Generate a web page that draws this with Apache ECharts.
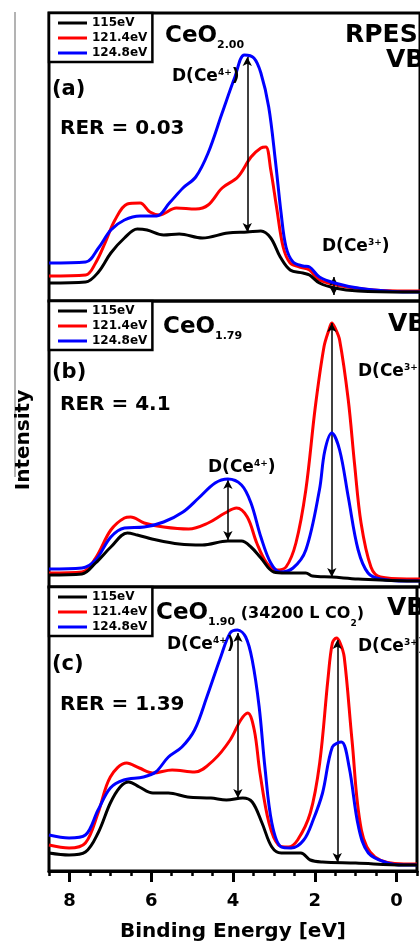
<!DOCTYPE html>
<html>
<head>
<meta charset="utf-8">
<script src="https://cdn.jsdelivr.net/npm/echarts@6/dist/echarts.min.js"></script>
<style>html,body{margin:0;padding:0;background:#fff}#c{width:420px;height:945px}</style>
</head>
<body>
<div id="c"></div>
<script>
// ---- data: [binding energy (eV), intensity (arb. units)] ----
const seriesNames = ['115eV', '121.4eV', '124.8eV'];
const xTickLabels = [0, 2, 4, 6, 8];

const a115 = [[8.5,18],[7.61,19],[7.30,29],[7.00,48],[6.67,63],[6.36,72],[6.12,71],[5.72,66],[5.34,67],[4.78,63],[4.16,68],[3.69,69],[3.36,70],[3.12,63],[2.89,44],[2.65,31],[2.34,28],[2.18,26],[1.94,18],[1.57,13],[1.00,10],[-0.18,9],[-0.5,9]];
const a121 = [[8.5,25],[7.61,26],[7.37,38],[7.14,58],[6.90,81],[6.60,97],[6.29,98],[6.05,89],[5.82,86],[5.41,93],[4.94,92],[4.64,96],[4.30,113],[3.92,124],[3.60,144],[3.36,153],[3.24,154],[3.12,131],[2.98,94],[2.82,54],[2.65,38],[2.42,34],[2.18,31],[1.94,21],[1.40,15],[0.62,11],[-0.18,10],[-0.5,10]];
const a124 = [[8.5,38],[7.61,39],[7.30,53],[7.00,71],[6.67,81],[6.29,85],[5.89,85],[5.58,98],[5.25,113],[4.94,124],[4.64,148],[4.30,188],[3.99,224],[3.76,246],[3.53,243],[3.36,228],[3.17,194],[3.01,141],[2.87,88],[2.75,54],[2.58,39],[2.34,35],[2.18,34],[1.94,24],[1.57,18],[1.00,13],[-0.18,9],[-0.5,9]];

const b115 = [[8.5,12],[7.70,13],[7.37,24],[7.00,40],[6.60,54],[6.36,52],[5.89,47],[5.34,43],[4.78,42],[4.16,46],[3.83,46],[3.60,40],[3.36,29],[3.05,15],[2.75,14],[2.27,14],[2.11,11],[1.64,10],[1.00,8],[-0.18,6],[-0.5,6]];
const b121 = [[8.5,14],[7.70,15],[7.37,29],[7.00,57],[6.67,69],[6.52,70],[6.19,64],[5.72,60],[5.11,58],[4.64,64],[4.23,74],[3.95,79],[3.69,70],[3.46,44],[3.22,24],[2.98,17],[2.75,20],[2.51,44],[2.27,97],[2.04,180],[1.83,240],[1.71,257],[1.64,264],[1.56,259],[1.45,247],[1.24,187],[1.09,124],[0.93,64],[0.69,20],[0.46,10],[-0.18,8],[-0.5,8]];
const b124 = [[8.5,18],[7.70,19],[7.37,27],[7.00,50],[6.67,59],[6.19,60],[5.72,65],[5.25,75],[4.87,89],[4.47,104],[4.16,108],[3.83,102],[3.60,84],[3.36,50],[3.12,24],[2.89,15],[2.58,19],[2.27,37],[1.94,97],[1.81,136],[1.64,154],[1.45,137],[1.24,90],[1.00,37],[0.76,14],[0.46,8],[-0.18,6],[-0.5,6]];

const c115 = [[8.5,18],[8.01,16],[7.61,19],[7.30,38],[7.00,68],[6.76,84],[6.55,89],[6.29,84],[5.96,78],[5.58,78],[5.11,74],[4.54,73],[4.16,71],[3.76,73],[3.53,69],[3.29,48],[3.05,24],[2.82,18],[2.34,18],[2.11,11],[1.81,9],[1.00,8],[-0.18,6],[-0.5,6]];
const c121 = [[8.5,26],[8.01,23],[7.61,28],[7.30,58],[7.00,94],[6.60,108],[6.29,103],[5.96,98],[5.49,101],[4.94,99],[4.47,111],[4.07,131],[3.81,151],[3.64,158],[3.48,141],[3.34,98],[3.12,48],[2.89,26],[2.65,24],[2.42,31],[2.11,58],[1.88,108],[1.68,191],[1.57,228],[1.47,233],[1.38,228],[1.28,214],[1.09,131],[0.86,41],[0.53,14],[-0.18,7],[-0.5,7]];
const c124 = [[8.5,36],[8.01,33],[7.61,36],[7.30,61],[7.00,83],[6.67,91],[6.19,94],[5.89,99],[5.58,114],[5.25,124],[4.94,141],[4.64,174],[4.30,214],[4.07,238],[3.89,241],[3.69,234],[3.53,211],[3.36,164],[3.22,104],[3.05,48],[2.82,24],[2.58,23],[2.27,31],[2.04,51],[1.81,78],[1.57,124],[1.35,129],[1.16,104],[0.93,44],[0.69,18],[0.22,8],[-0.18,6],[-0.5,6]];

// double arrows: [energy, lower intensity, upper intensity]
const arrowsA = [[3.69, 69, 244], [1.59, 6, 24]];
const arrowsB = [[4.16, 47, 107], [1.64, 10, 264]];
const arrowsC = [[3.88, 73, 238], [1.45, 9, 231]];

// ---- chart ----
const F = '"DejaVu Sans", sans-serif';
const colors = ['#000000', '#ff0000', '#0000ff'];
const panels = [
  {top: 13, height: 288, data: [a115, a121, a124], arrows: arrowsA},
  {top: 301, height: 286, data: [b115, b121, b124], arrows: arrowsB},
  {top: 587, height: 284, data: [c115, c121, c124], arrows: arrowsC}
];
const X_MIN = -0.5, X_MAX = 8.5;

const grid = panels.map(p => ({left: 49, top: p.top, width: 381, height: p.height, show: true,
  borderColor: '#000', borderWidth: 3, backgroundColor: 'transparent'}));
const yAxis = panels.map((p, i) => ({gridIndex: i, type: 'value', min: 0, max: p.height, show: false}));
const xAxis = [
  {gridIndex: 0, type: 'value', min: X_MIN, max: X_MAX, inverse: true, show: false},
  {gridIndex: 1, type: 'value', min: X_MIN, max: X_MAX, inverse: true, show: false},
  {gridIndex: 2, type: 'value', min: X_MIN, max: X_MAX, inverse: true, interval: 0.5, position: 'bottom',
    axisLine: {show: true, lineStyle: {color: '#000', width: 3}},
    axisTick: {show: true, inside: false, length: 5, lineStyle: {color: '#000', width: 2.5}},
    axisLabel: {interval: 0, margin: 21, color: '#000', fontFamily: F, fontWeight: 'bold', fontSize: 18,
      formatter: v => (xTickLabels.indexOf(v) >= 0 ? String(v) : '')},
    splitLine: {show: false},
    name: 'Binding Energy [eV]', nameLocation: 'middle', nameGap: 51,
    nameTextStyle: {color: '#000', fontFamily: F, fontWeight: 'bold', fontSize: 20}},
  {gridIndex: 2, type: 'value', min: X_MIN, max: X_MAX, inverse: true, position: 'bottom', offset: 0,
    axisLine: {show: false},
    axisTick: {show: true, inside: false, length: 11, customValues: xTickLabels, lineStyle: {color: '#000', width: 3}},
    axisLabel: {show: false}, splitLine: {show: false}}
];

const series = [];
panels.forEach((p, i) => {
  p.data.forEach((d, k) => {
    const s = {
      name: seriesNames[k], type: 'line', xAxisIndex: i, yAxisIndex: i, data: d,
      showSymbol: false, symbol: 'none', smooth: 0.35, silent: true,
      lineStyle: {color: colors[k], width: 3}, itemStyle: {color: colors[k]}, z: 3 + k
    };
    if (k === 0) {
      s.markLine = {
        silent: true, symbol: ['arrow', 'arrow'], symbolSize: [7, 9], animation: false,
        label: {show: false}, lineStyle: {color: '#000', width: 1.5, type: 'solid'},
        emphasis: {disabled: true},
        data: p.arrows.map(a => [{coord: [a[0], a[1]]}, {coord: [a[0], a[2]]}])
      };
      s.z = 6;
    }
    series.push(s);
  });
});

const legend = panels.map(p => ({
  data: seriesNames, orient: 'vertical', left: 49, top: p.top, icon: 'rect', itemWidth: 29, itemHeight: 3,
  itemGap: 3, padding: [4, 5, 3, 9], borderColor: '#000', borderWidth: 2.5, backgroundColor: '#fff',
  selectedMode: false,
  textStyle: {color: '#000', fontFamily: F, fontWeight: 'bold', fontSize: 12}
}));

function txt(x, y, text, size, rich) {
  return {type: 'text', x: x, y: y, silent: true, z: 100,
    style: {text: text, fontFamily: F, fontWeight: 'bold', fontSize: size, fill: '#000',
      align: 'left', verticalAlign: 'middle', rich: rich}};
}
const formulaRich = {m: {fontFamily: F, fontWeight: 'bold', fontSize: 23, lineHeight: 30, verticalAlign: 'middle'},
                     s: {fontFamily: F, fontWeight: 'bold', fontSize: 11, lineHeight: 12, verticalAlign: 'bottom'},
                     p: {fontFamily: F, fontWeight: 'bold', fontSize: 16, lineHeight: 30, verticalAlign: 'middle', padding: [2, 0, 0, 0]},
                     q: {fontFamily: F, fontWeight: 'bold', fontSize: 9, lineHeight: 10, verticalAlign: 'bottom'}};
const dRich = {n: {fontFamily: F, fontWeight: 'bold', fontSize: 17, lineHeight: 17, verticalAlign: 'middle'},
               s: {fontFamily: F, fontWeight: 'bold', fontSize: 9, lineHeight: 10, verticalAlign: 'top'}};
const d4 = '{n|D(Ce}{s|4+}{n|)}';
const d3 = '{n|D(Ce}{s|3+}{n|)}';

const graphic = [
  {type: 'line', silent: true, shape: {x1: 15, y1: 12, x2: 15, y2: 477}, style: {stroke: '#9a9a9a', lineWidth: 1.5}},
  {type: 'text', x: 24, y: 440, rotation: Math.PI / 2, silent: true,
    style: {text: 'Intensity', fontFamily: F, fontWeight: 'bold', fontSize: 20, fill: '#000', align: 'center', verticalAlign: 'middle'}},
  // panel a
  txt(165, 36, '{m|CeO}{s|2.00}', 23, formulaRich),
  txt(345, 35, 'RPES', 25), txt(386, 60, 'VB', 25),
  txt(52, 90, '(a)', 21), txt(60, 129, 'RER = 0.03', 20),
  txt(172, 77, d4, 17, dRich), txt(322, 247, d3, 17, dRich),
  // panel b
  txt(163, 327, '{m|CeO}{s|1.79}', 23, formulaRich),
  txt(388, 324, 'VB', 25),
  txt(52, 373, '(b)', 21), txt(60, 405, 'RER = 4.1', 20),
  txt(208, 468, d4, 17, dRich), txt(358, 372, d3, 17, dRich),
  // panel c
  txt(156, 613, '{m|CeO}{s|1.90}{p| (34200 L CO}{q|2}{p|)}', 23, formulaRich),
  txt(387, 608, 'VB', 25),
  txt(52, 665, '(c)', 21), txt(60, 705, 'RER = 1.39', 20),
  txt(167, 645, d4, 17, dRich), txt(358, 647, d3, 17, dRich)
];

const chart = echarts.init(document.getElementById('c'), null, {renderer: 'canvas'});
chart.setOption({animation: false, backgroundColor: '#fff', grid, xAxis, yAxis, legend, series, graphic});
</script>
</body>
</html>
